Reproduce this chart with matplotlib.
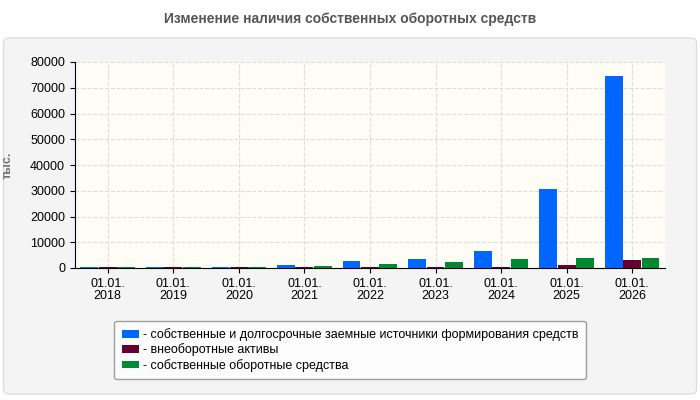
import matplotlib.pyplot as plt
import numpy as np
from matplotlib.patches import FancyBboxPatch

plt.rcParams['font.family'] = ['Liberation Sans', 'DejaVu Sans']

years = ['01.01.\n2018', '01.01.\n2019', '01.01.\n2020', '01.01.\n2021', '01.01.\n2022',
         '01.01.\n2023', '01.01.\n2024', '01.01.\n2025', '01.01.\n2026']
own_long = [400, 400, 400, 1000, 2600, 3400, 6500, 30500, 74500]
noncurrent = [500, 500, 500, 500, 500, 500, 500, 1000, 3000]
working = [500, 500, 500, 900, 1450, 2200, 3400, 3800, 3800]
labels = ['- собственные и долгосрочные заемные источники формирования средств',
          '- внеоборотные активы',
          '- собственные оборотные средства']
colors = ['#0066ff', '#660033', '#008833']

fig = plt.figure(figsize=(7, 4), dpi=100)
fig.patch.set_facecolor('white')
fig.patches.append(FancyBboxPatch((0.005, 0.015), 0.99, 0.89, boxstyle='round,pad=0,rounding_size=0.01',
                                  transform=fig.transFigure, facecolor='#f4f4f4', edgecolor='#dddddd', zorder=-1))
fig.text(0.5, 0.952, 'Изменение наличия собственных оборотных средств', ha='center', va='center',
         fontsize=10, fontweight='bold', color='#555555')

ax = fig.add_axes([0.107, 0.33, 0.843, 0.515])
ax.set_facecolor('#fdfdf6')
x = np.arange(len(years))
w = 0.28
for i, (vals, c, l) in enumerate(zip([own_long, noncurrent, working], colors, labels)):
    ax.bar(x + (i - 1) * w, vals, w * 0.97, color=c, label=l, zorder=3)
ax.set_xlim(-0.5, len(years) - 0.5)
ax.set_ylim(0, 80000)
ax.set_yticks(range(0, 80001, 10000))
ax.set_xticks(x)
ax.set_xticklabels(years, fontsize=9, linespacing=1.0)
ax.tick_params(axis='y', labelsize=9)
ax.grid(True, ls='--', color='#dddddd', zorder=0)
for s in ['top', 'right']:
    ax.spines[s].set_visible(False)
ax.set_ylabel('тыс.', fontsize=9, color='#777777', fontweight='bold', labelpad=12)
leg = fig.legend(loc='center', bbox_to_anchor=(0.5, 0.125), fontsize=9, frameon=True,
                 handlelength=1.4, handleheight=0.6, handletextpad=0.3, labelspacing=0.2,
                 fancybox=True, borderpad=0.6)
leg.get_frame().set_edgecolor('#888888')
leg.get_frame().set_facecolor('white')
fig.savefig('out.png', dpi=100)
